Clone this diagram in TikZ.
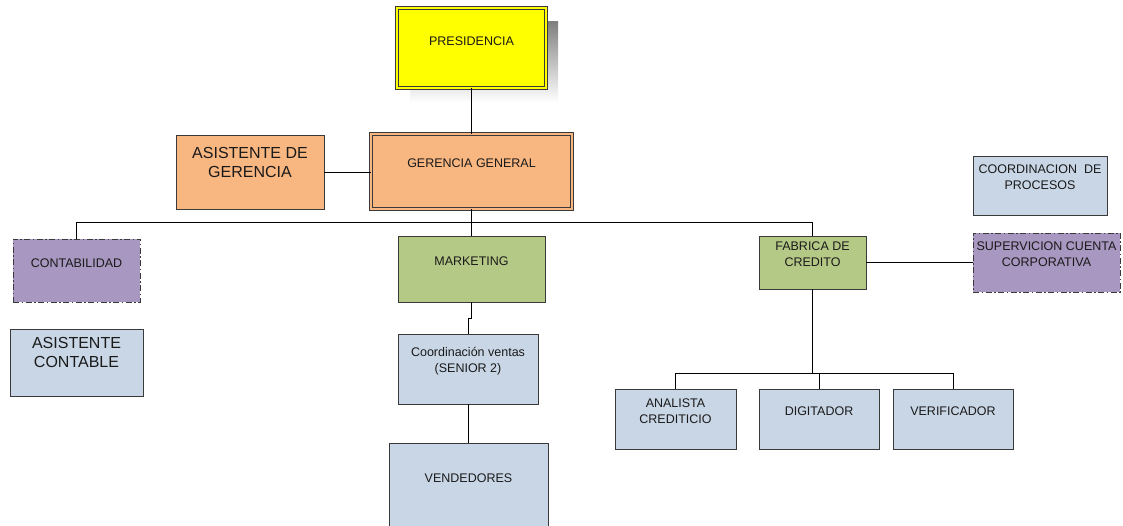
\documentclass[tikz,border=0pt]{standalone}
\usepackage{fontspec}
\setmainfont{Liberation Sans}
\usetikzlibrary{calc}
\definecolor{linec}{HTML}{3A3A3A}
\definecolor{txtc}{HTML}{1A1A1A}
\definecolor{presfill}{HTML}{FFFF00}
\definecolor{peach}{HTML}{F8B680}
\definecolor{olive}{HTML}{B5C986}
\definecolor{steel}{HTML}{C9D6E6}
\definecolor{lilac}{HTML}{A897C0}
\definecolor{shade}{HTML}{CBCBCB}
\tikzset{
  orgbox/.style={draw=linec, line width=0.9pt, inner sep=0pt},
  dblbox/.style={orgbox, double=#1, double distance=2.2pt},
  dashbox/.style={orgbox, dash pattern=on 6pt off 2.5pt on 1.5pt off 2.5pt},
  lbl/.style={inner sep=0pt, align=center, text=txtc, font=\fontsize{12.5}{16}\selectfont},
  biglbl/.style={inner sep=0pt, align=center, text=txtc, font=\fontsize{16}{19}\selectfont},
  link/.style={draw=black, line width=0.9pt}
}
\begin{document}
\begin{tikzpicture}[x=1pt,y=-1pt]
\useasboundingbox (0,0) rectangle (1123,526);

% shadow behind the top box
\fill[shade] (410,22) rectangle (558,102);

% boxes
\node[dblbox=presfill, fill=presfill, minimum width=149pt, minimum height=80pt] (pres) at (471.5,48) {};
\node[dblbox=peach, fill=peach, minimum width=201pt, minimum height=75pt] (ger) at (471.5,171.5) {};
\node[orgbox, fill=peach, minimum width=148pt, minimum height=74pt] (asg) at (250,172) {};
\node[dashbox, fill=lilac, minimum width=127pt, minimum height=63pt] (cont) at (76.5,270.5) {};
\node[orgbox, fill=steel, minimum width=133pt, minimum height=67pt] (asc) at (76.5,362.5) {};
\node[orgbox, fill=olive, minimum width=147pt, minimum height=66pt] (mkt) at (471.5,269) {};
\node[orgbox, fill=steel, minimum width=140pt, minimum height=70pt] (cv) at (468,369) {};
\node[orgbox, fill=steel, minimum width=159pt, minimum height=97pt] (ven) at (468.5,491.5) {};
\node[orgbox, fill=olive, minimum width=107pt, minimum height=53pt] (fab) at (812.5,262.5) {};
\node[dashbox, fill=lilac, minimum width=147pt, minimum height=59pt] (sup) at (1046.5,262.5) {};
\node[orgbox, fill=steel, minimum width=134pt, minimum height=59pt] (cdp) at (1040,185.5) {};
\node[orgbox, fill=steel, minimum width=121pt, minimum height=60pt] (ana) at (675.5,419) {};
\node[orgbox, fill=steel, minimum width=120pt, minimum height=60pt] (dig) at (819,419) {};
\node[orgbox, fill=steel, minimum width=120pt, minimum height=60pt] (ver) at (953,419) {};

% labels
\node[lbl] (tpres) at (471.5,41) {PRESIDENCIA};
\node[lbl] (tger) at (471.5,163) {GERENCIA GENERAL};
\node[biglbl] (tasg) at (250,162) {ASISTENTE DE\\GERENCIA};
\node[lbl] (tcont) at (76.5,263) {CONTABILIDAD};
\node[biglbl] (tasc) at (76.5,352.5) {ASISTENTE\\CONTABLE};
\node[lbl] (tmkt) at (471.5,261) {MARKETING};
\node[lbl] (tcv) at (468,361.5) {Coordinación ventas\\(SENIOR 2)};
\node[lbl] (tven) at (468.5,478) {VENDEDORES};
\node[lbl] (tfab) at (812.5,254) {FABRICA DE\\CREDITO};
\node[lbl] (tsup) at (1046.5,254) {SUPERVICION CUENTA\\CORPORATIVA};
\node[lbl] (tcdp) at (1040,177) {COORDINACION~~DE\\PROCESOS};
\node[lbl] (tana) at (675.5,411) {ANALISTA\\CREDITICIO};
\node[lbl] (tdig) at (819,411.5) {DIGITADOR};
\node[lbl] (tver) at (953,411.5) {VERIFICADOR};

% connectors
\draw[link] (pres.south) -- (ger.north);
\draw[link] (asg.east) -- (asg.east -| ger.west);
\draw[link] (ger.south) -- ++(0,13) coordinate (bus);
\draw[link] (cont.north) |- (bus) -| (fab.north);
\draw[link] (bus) -- (mkt.north);
\draw[link] (mkt.south) -- ++(0,16) -| (cv.north);
\draw[link] (cv.south) -- (cv.south |- ven.north);
\draw[link] (fab.east) -- (sup.west);
\draw[link] (fab.south) -- ++(0,84) coordinate (fbus);
\draw[link] (ana.north) |- (fbus) -| (ver.north);
\draw[link] (fbus) -| (dig.north);
\end{tikzpicture}
\end{document}
